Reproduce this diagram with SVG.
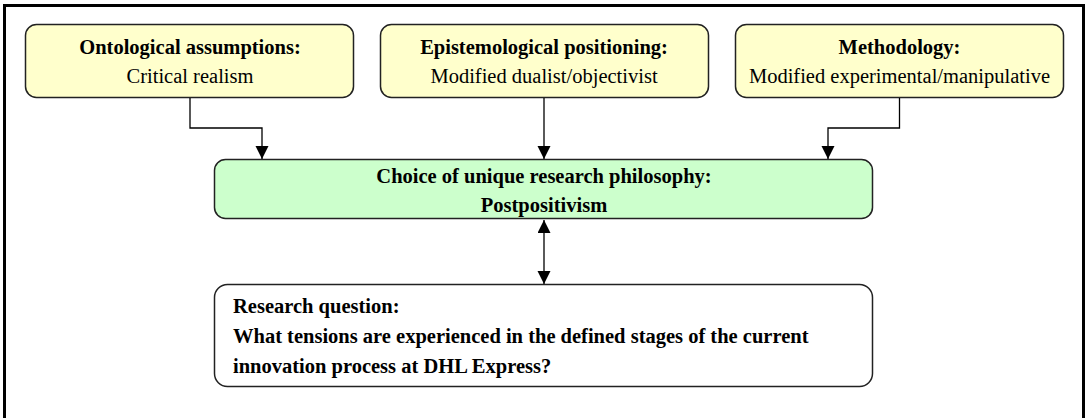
<svg xmlns="http://www.w3.org/2000/svg" width="1086" height="418" viewBox="0 0 1086 418">
  <style>
    .frame { fill: none; stroke: #000; stroke-width: 3; }
    .input { fill: #FFFFCC; stroke: #222; stroke-width: 1.5; }
    .choice { fill: #CCFFCC; stroke: #222; stroke-width: 1.5; }
    .question { fill: #FFFFFF; stroke: #222; stroke-width: 1.5; }
    text { font-family: "Liberation Serif", "Times New Roman", serif; font-size: 20.5px; fill: #000; }
    .b { font-weight: bold; }
    .c { text-anchor: middle; }
    .link { fill: none; stroke: #000; stroke-width: 1.3; }
  </style>
  <defs>
    <marker id="head" markerUnits="userSpaceOnUse" markerWidth="14" markerHeight="14" refX="13" refY="6.5" orient="auto-start-reverse">
      <path d="M0,0 L13,6.5 L0,13 Z" fill="#000"/>
    </marker>
  </defs>

  <rect class="frame" x="4.5" y="5.5" width="1079" height="430"/>

  <g id="ontology">
    <rect class="input" x="25.5" y="24.5" width="328" height="73" rx="11"/>
    <text class="b c" x="190" y="54">Ontological assumptions:</text>
    <text class="c" x="190" y="83">Critical realism</text>
  </g>

  <g id="epistemology">
    <rect class="input" x="380.5" y="24.5" width="328" height="73" rx="11"/>
    <text class="b c" x="544" y="54">Epistemological positioning:</text>
    <text class="c" x="544" y="83">Modified dualist/objectivist</text>
  </g>

  <g id="methodology">
    <rect class="input" x="735.5" y="24.5" width="328" height="73" rx="11"/>
    <text class="b c" x="899.5" y="54">Methodology:</text>
    <text class="c" x="899.5" y="83">Modified experimental/manipulative</text>
  </g>

  <g id="philosophy">
    <rect class="choice" x="214.5" y="159.5" width="658" height="59" rx="11"/>
    <text class="b c" x="544" y="183">Choice of unique research philosophy:</text>
    <text class="b c" x="544" y="212">Postpositivism</text>
  </g>

  <g id="research-question">
    <rect class="question" x="214.5" y="284.5" width="658" height="102" rx="13"/>
    <text class="b" x="233" y="313">Research question:</text>
    <text class="b" x="233" y="343">What tensions are experienced in the defined stages of the current</text>
    <text class="b" x="233" y="373">innovation process at DHL Express?</text>
  </g>

  <g id="connectors">
    <path class="link" d="M190,98 V128 H262 V159" marker-end="url(#head)"/>
    <path class="link" d="M544,98 V159" marker-end="url(#head)"/>
    <path class="link" d="M899.5,98 V128 H828 V159" marker-end="url(#head)"/>
    <path class="link" d="M544,220 V284" marker-start="url(#head)" marker-end="url(#head)"/>
  </g>
</svg>
